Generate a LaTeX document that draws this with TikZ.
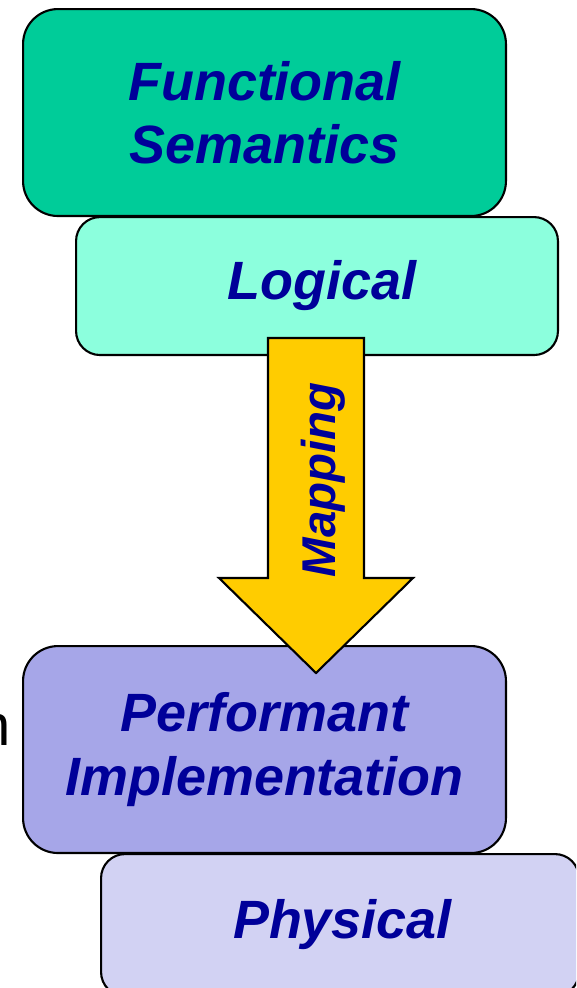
\documentclass[tikz,border=0pt]{standalone}
\usepackage{fontspec}
\setmainfont{Liberation Sans}
\usepackage{tikz}
\definecolor{semgreen}{HTML}{00CC99}
\definecolor{logicaqua}{HTML}{8CFFDD}
\definecolor{perflilac}{HTML}{A6A6E8}
\definecolor{physlilac}{HTML}{D2D2F3}
\definecolor{mapyellow}{HTML}{FFCC00}
\definecolor{labelblue}{HTML}{000099}
\tikzset{
  layer/.style={rectangle,draw=black,line width=1.2pt,anchor=north west,align=center,text=labelblue,font=\fontsize{30.7}{36}\selectfont\bfseries\itshape},
  bigbox/.style={layer,rounded corners=0.7cm,minimum width=9.66cm,minimum height=4.14cm},
  smallbox/.style={layer,rounded corners=0.48cm},
  maparrow/.style={draw=black,line width=1.2pt,fill=mapyellow,line join=miter},
  maplabel/.style={rotate=90,text=labelblue,font=\fontsize{27}{32}\selectfont\bfseries\itshape}
}

\begin{document}
\begin{tikzpicture}[x=0.02cm,y=0.02cm]
\useasboundingbox (0,0) rectangle (576,-988);
\clip (0,0) rectangle (576,-988);
\node[anchor=base east,font=\fontsize{33}{40}\selectfont] (cut) at (17,-745) {n};
\node[bigbox,fill=semgreen] (func) at (22,-8) {Functional\\Semantics};
\node[smallbox,fill=logicaqua,minimum width=9.64cm,minimum height=2.76cm] (logical) at (75,-216) {\hspace*{0.2cm}Logical};
\node[bigbox,fill=perflilac] (perf) at (22,-645) {Performant\\Implementation};
\node[smallbox,fill=physlilac,minimum width=9.56cm,minimum height=2.84cm] (phys) at (100,-853) {\hspace*{0.1cm}Physical};
% mapping arrow from logical down into perf
\coordinate (maptop) at (316,-338);
\coordinate (maptip) at (316,-673);
\draw[maparrow] (maptop) ++(-48,0) -- ++(0,-240) -- ++(-49,0) -- (maptip) -- ++(97,95) -- ++(-49,0) -- ++(0,240) -- cycle;
\node[maplabel] (maplbl) at (323,-480) {Mapping};
\end{tikzpicture}
\end{document}
